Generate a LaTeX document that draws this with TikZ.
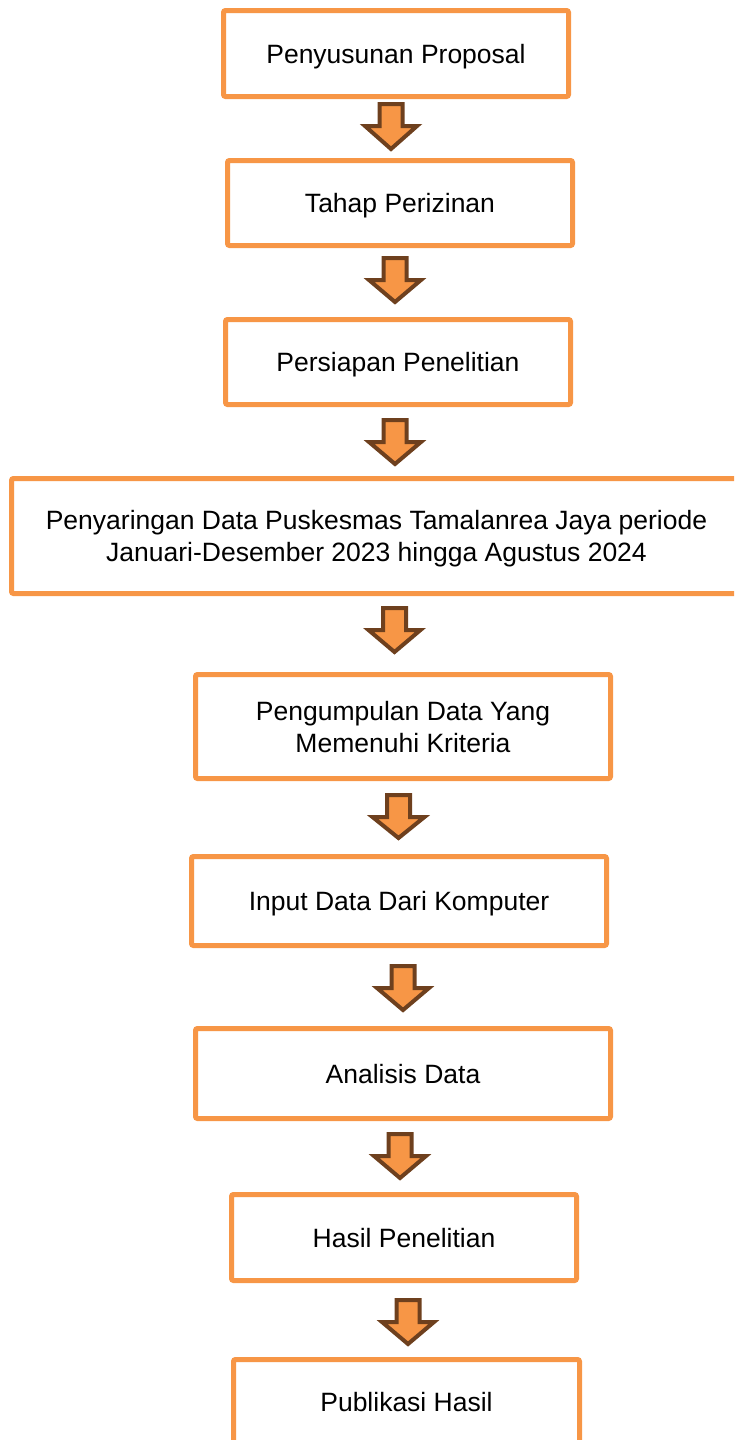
\documentclass[tikz,border=0pt]{standalone}
\usepackage{fontspec}
\setmainfont{Liberation Sans}
\definecolor{boxorange}{HTML}{F79646}
\definecolor{arrowbrown}{RGB}{110,64,30}
\tikzset{
  box/.style={draw=boxorange, line width=5pt, rounded corners=2pt, fill=white,
    inner sep=0pt, align=center, text depth=0pt,
    font=\fontsize{26.5}{32}\selectfont},
  barrow/.style={draw=arrowbrown, fill=boxorange, line width=4pt, line join=miter}
}
\newcommand{\blockarrow}[3]{%
  \draw[barrow] (#1-11.5,#2+2) -- (#1+11.5,#2+2) -- (#1+11.5,#2+24) -- (#1+26,#2+24)
    -- (#1,#3-3) -- (#1-26,#2+24) -- (#1-11.5,#2+24) -- cycle;}
\begin{document}
\begin{tikzpicture}[x=1pt,y=-1pt]
\useasboundingbox (0,0) rectangle (734,1440);
\clip (0,0) rectangle (734,1440);
\node[box, minimum width=345pt, minimum height=86pt] (b1) at (396,53.5) {Penyusunan Proposal};
\node[box, minimum width=345pt, minimum height=85pt] (b2) at (400,203) {Tahap Perizinan};
\node[box, minimum width=345pt, minimum height=85pt] (b3) at (398,362) {Persiapan Penelitian};
\node[box, minimum width=730pt, minimum height=115pt] (b4) at (376.5,536) {Penyaringan Data Puskesmas Tamalanrea Jaya periode\\Januari-Desember 2023 hingga Agustus 2024};
\node[box, minimum width=415pt, minimum height=104pt] (b5) at (403,726.5) {Pengumpulan Data Yang\\Memenuhi Kriteria};
\node[box, minimum width=415pt, minimum height=89pt] (b6) at (399,901) {Input Data Dari Komputer};
\node[box, minimum width=415pt, minimum height=90pt] (b7) at (403,1073.5) {Analisis Data};
\node[box, minimum width=345pt, minimum height=86pt] (b8) at (404,1237.5) {Hasil Penelitian};
\node[box, minimum width=346pt, minimum height=85pt] (b9) at (406.5,1402) {Publikasi Hasil};
\blockarrow{391}{102}{152}
\blockarrow{395}{256}{305}
\blockarrow{395}{418}{467}
\blockarrow{394.5}{606}{655}
\blockarrow{398.5}{793}{841}
\blockarrow{403}{964}{1013}
\blockarrow{400}{1132}{1181}
\blockarrow{408}{1298}{1347}
\end{tikzpicture}
\end{document}
